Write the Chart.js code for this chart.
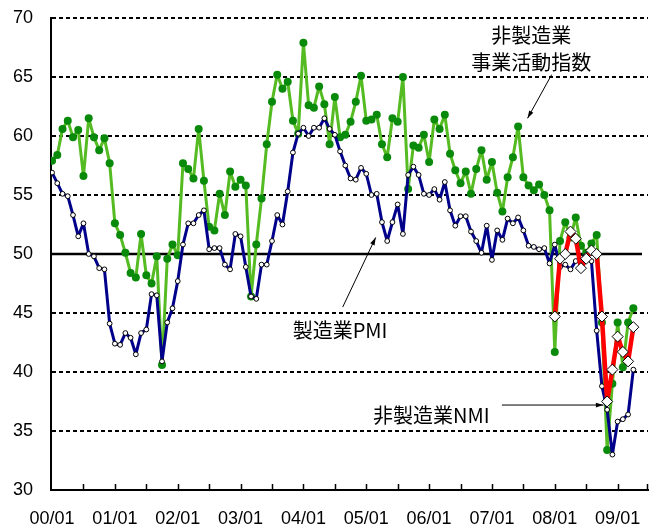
<!DOCTYPE html>
<html lang="ja">
<head>
<meta charset="utf-8">
<title>PMI / NMI</title>
<script src="https://cdn.jsdelivr.net/npm/chart.js@4.4.1/dist/chart.umd.min.js"></script>
<style>
  html, body { margin: 0; padding: 0; background: #fff; }
  #chart { display: block; }
</style>
</head>
<body>
<canvas id="chart" width="649" height="528"></canvas>
<script>
// 月次データ: 2000/01 ～ 2009/04 (index 0 = 00/01)
const yearLabels = ['00/01', '01/01', '02/01', '03/01', '04/01', '05/01', '06/01', '07/01', '08/01', '09/01'];
const yTicks = [30, 35, 40, 45, 50, 55, 60, 65, 70];

// 製造業PMI
const pmi = [
  56.9, 56.0, 55.1, 54.9, 53.3, 51.5, 52.6, 50.0, 49.8, 48.8, 48.7, 44.1,
  42.4, 42.3, 43.3, 42.9, 41.5, 43.3, 43.6, 46.6, 46.5, 40.9, 44.2, 45.4,
  47.7, 50.8, 52.6, 52.6, 53.3, 53.7, 50.4, 50.5, 50.5, 49.1, 48.7, 51.7,
  51.5, 48.9, 46.4, 46.2, 49.1, 49.1, 51.1, 53.3, 52.5, 55.3, 58.6, 60.2,
  60.7, 60.0, 60.7, 60.7, 61.5, 60.6, 60.1, 58.7, 57.5, 56.4, 56.3, 57.3,
  56.8, 55.0, 55.1, 52.7, 51.1, 52.7, 54.2, 51.7, 56.7, 57.4, 56.7, 55.1,
  55.0, 55.5, 54.6, 56.1, 53.7, 52.4, 53.2, 53.2, 51.9, 51.1, 50.1, 52.4,
  49.5, 52.0, 51.2, 53.0, 52.6, 53.1, 52.0, 50.7, 50.6, 50.4, 50.5, 49.2,
  50.8, 48.9, 49.1, 48.7, 49.4, 49.7, 49.9, 49.4, 43.5, 38.8, 36.8, 33.0,
  35.8, 36.0, 36.4, 40.2
];

// 非製造業 事業活動指数
const nonMfgActivity = [
  57.9, 58.4, 60.6, 61.3, 59.9, 60.5, 56.6, 61.5, 59.9, 58.8, 59.8, 57.7,
  52.6, 51.6, 50.1, 48.4, 48.0, 51.7, 48.2, 47.5, 49.8, 40.6, 49.6, 50.8,
  49.9, 57.7, 57.2, 56.4, 60.6, 56.2, 52.3, 52.0, 55.1, 53.3, 57.0, 55.7,
  56.3, 55.8, 46.4, 50.8, 54.7, 59.3, 62.9, 65.2, 64.0, 64.6, 61.3, 60.2,
  67.9, 62.6, 62.4, 64.2, 62.7, 59.3, 63.3, 59.9, 60.1, 61.2, 62.9, 65.1,
  61.3, 61.4, 61.8, 59.3, 58.2, 61.5, 61.2, 65.0, 55.5, 59.2, 59.0, 60.1,
  57.8, 61.4, 60.6, 61.8, 58.5, 57.1, 56.0, 57.0, 55.1, 57.2, 58.8, 56.3,
  57.8, 55.2, 53.6, 56.5, 58.2, 60.8, 56.5, 55.8, 55.4, 55.9, 55.0, 53.7,
  41.7, 51.1, 52.7, 51.4, 53.1, 50.7, 50.1, 50.9, 51.6, 44.2, 33.4, 39.0,
  44.2, 40.4, 44.2, 45.4
];

// 非製造業NMI (2008/01 から)
const nmiStart = 96;
const nmi = [
  44.7, 49.6, 50.0, 51.9, 51.3, 48.8, 49.6, 50.3, 50.0, 44.7, 37.5, 40.2,
  43.0, 41.7, 40.9, 43.8
];

// 月番号つきの点に変換
function toPoints(values, start) {
  return values.map((v, i) => ({ x: start + i, y: v }));
}

// 注記 (データ座標で位置指定)
const notes = [
  { text: ['非製造業', '事業活動指数'], x: 91.5, y: [68.5, 66.2], align: 'center',
    arrow: [95.4, 65.2, 90.8, 61.5] },
  { text: ['製造業PMI'], x: 55.0, y: [43.5], align: 'center',
    arrow: [55.5, 45.5, 61.8, 51.4] },
  { text: ['非製造業NMI'], x: 61.3, y: [36.35], align: 'left',
    arrow: [85.9, 37.2, 105.3, 37.2] }
];

function drawArrow(ctx, x1, y1, x2, y2) {
  const a = Math.atan2(y2 - y1, x2 - x1);
  const h = 8;
  ctx.beginPath();
  ctx.moveTo(x1, y1);
  ctx.lineTo(x2, y2);
  ctx.stroke();
  ctx.beginPath();
  ctx.moveTo(x2, y2);
  ctx.lineTo(x2 - h * Math.cos(a - 0.3), y2 - h * Math.sin(a - 0.3));
  ctx.lineTo(x2 - h * Math.cos(a + 0.3), y2 - h * Math.sin(a + 0.3));
  ctx.closePath();
  ctx.fill();
}

const extras = {
  id: 'extras',
  beforeDatasetsDraw(chart) {
    // 50 の基準線
    const { ctx, chartArea, scales: { y } } = chart;
    const y50 = y.getPixelForValue(50);
    ctx.save();
    ctx.strokeStyle = '#000';
    ctx.lineWidth = 2.5;
    ctx.beginPath();
    ctx.moveTo(chartArea.left, y50);
    ctx.lineTo(chartArea.right - 6, y50);
    ctx.stroke();
    ctx.restore();
  },
  afterDraw(chart) {
    const { ctx, chartArea, scales: { x, y } } = chart;
    ctx.save();
    // 半年ごとの目盛り (内向き)
    ctx.strokeStyle = '#000';
    ctx.lineWidth = 1.5;
    for (let m = 6; m <= x.max + 0.5; m += 6) {
      const px = Math.min(Math.round(x.getPixelForValue(m)) + 0.5, chartArea.right - 0.5);
      ctx.beginPath();
      ctx.moveTo(px, chartArea.bottom);
      ctx.lineTo(px, chartArea.bottom - 6);
      ctx.stroke();
    }
    // 注記と矢印
    ctx.fillStyle = '#000';
    ctx.lineWidth = 1;
    ctx.font = '20px "Noto Sans CJK JP"';
    ctx.textBaseline = 'middle';
    notes.forEach(n => {
      ctx.textAlign = n.align;
      n.text.forEach((t, k) => {
        ctx.fillText(t, x.getPixelForValue(n.x), y.getPixelForValue(n.y[k]));
      });
      const [ax1, ay1, ax2, ay2] = n.arrow;
      drawArrow(ctx, x.getPixelForValue(ax1), y.getPixelForValue(ay1),
                x.getPixelForValue(ax2), y.getPixelForValue(ay2));
    });
    ctx.restore();
  }
};

const tickFont = { family: '"Liberation Sans", Arial, sans-serif', size: 18 };

const ctx = document.getElementById('chart').getContext('2d');
new Chart(ctx, {
  type: 'line',
  data: {
    datasets: [
      {
        label: '非製造業NMI',
        data: toPoints(nmi, nmiStart),
        borderColor: '#ff0000',
        borderWidth: 4.5,
        borderJoinStyle: 'round',
        pointStyle: 'rectRot',
        pointRadius: 5.5,
        pointBackgroundColor: '#fff',
        pointBorderColor: '#000',
        pointBorderWidth: 1,
        order: 0
      },
      {
        label: '製造業PMI',
        data: toPoints(pmi, 0),
        borderColor: '#00008b',
        borderWidth: 3,
        borderJoinStyle: 'round',
        pointRadius: 2.4,
        pointBackgroundColor: '#fff',
        pointBorderColor: '#000',
        pointBorderWidth: 1,
        order: 1
      },
      {
        label: '非製造業事業活動指数',
        data: toPoints(nonMfgActivity, 0),
        borderColor: '#55bb22',
        borderWidth: 3,
        borderJoinStyle: 'round',
        pointRadius: 4,
        pointBackgroundColor: '#0a8a0a',
        pointBorderColor: '#0a8a0a',
        pointBorderWidth: 0,
        order: 2
      }
    ]
  },
  options: {
    responsive: false,
    animation: false,
    devicePixelRatio: 1,
    layout: { autoPadding: false, padding: { top: 18, right: 1, left: 13, bottom: 0 } },
    plugins: { legend: { display: false }, tooltip: { enabled: false } },
    elements: { line: { tension: 0 } },
    scales: {
      x: {
        type: 'linear',
        min: -0.2,
        max: 113.8,
        afterFit: s => { s.height = 38; },
        afterBuildTicks: s => { s.ticks = yearLabels.map((_, k) => ({ value: k * 12 })); },
        grid: { display: true, drawOnChartArea: false, drawTicks: true, tickLength: 18, tickColor: 'rgba(0,0,0,0)' },
        border: { display: true, color: '#000', width: 2 },
        ticks: {
          autoSkip: false,
          maxRotation: 0,
          padding: 0,
          color: '#000',
          font: tickFont,
          callback: v => yearLabels[Math.round(v / 12)]
        }
      },
      y: {
        min: 30,
        max: 70,
        afterFit: s => { s.width = 38; },
        afterBuildTicks: s => { s.ticks = yTicks.map(v => ({ value: v })); },
        grid: {
          drawTicks: false,
          color: c => (c.tick && (c.tick.value === 50 || c.tick.value === 30)) ? 'rgba(0,0,0,0)' : '#000',
          lineWidth: 2
        },
        border: { display: true, color: '#000', width: 2, dash: [4, 3] },
        ticks: {
          padding: 0,
          crossAlign: 'far',
          color: '#000',
          font: tickFont
        }
      }
    }
  },
  plugins: [extras]
});
</script>
</body>
</html>
